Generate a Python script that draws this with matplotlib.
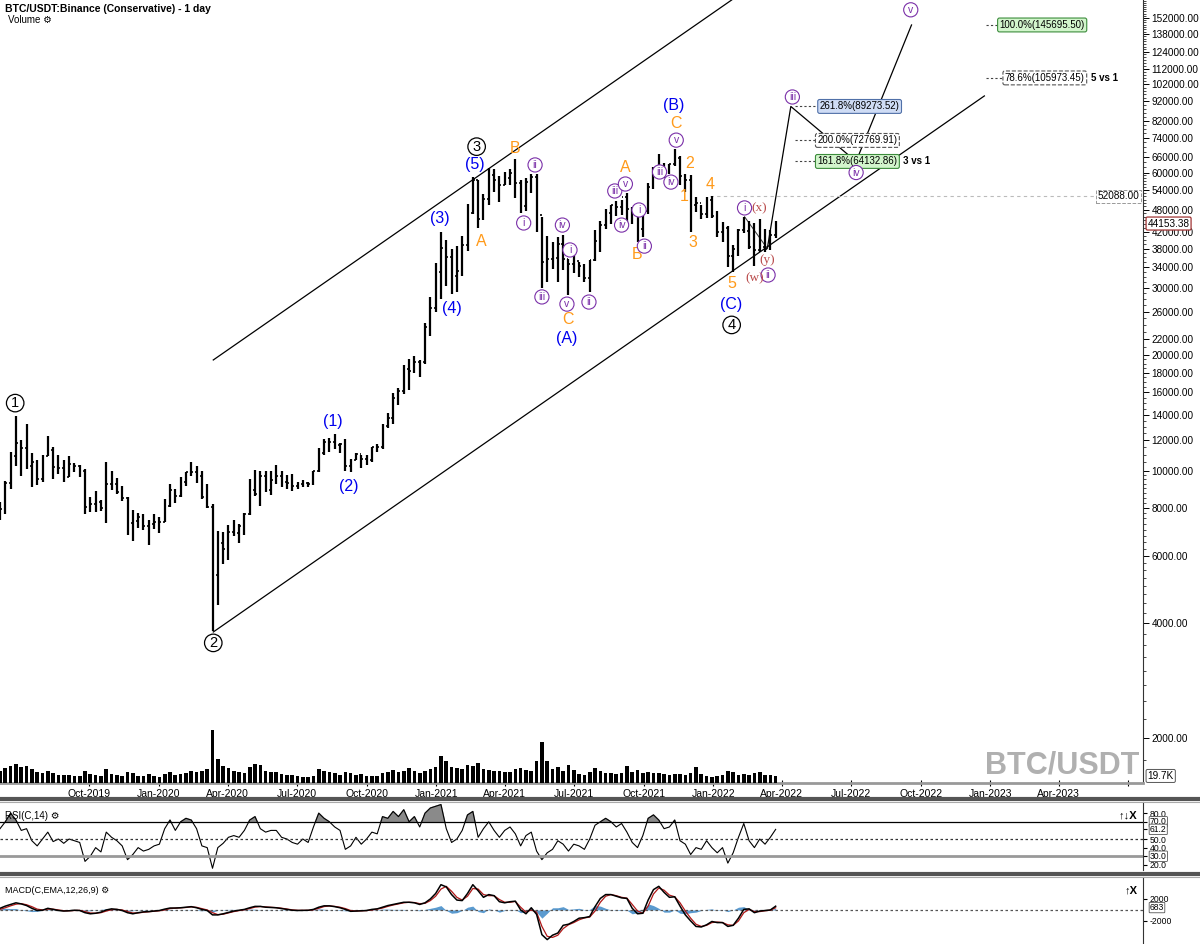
import numpy as np
import pandas as pd
import matplotlib.pyplot as plt
import matplotlib.dates as mdates
import matplotlib.ticker as mticker
import matplotlib.transforms as mtransforms
from matplotlib.lines import Line2D

plt.rcParams['font.family'] = ['Liberation Sans', 'DejaVu Sans']

# ============================================================
# 1. Barras semanales (lunes), leídas del gráfico diario
# ============================================================
first_week = "2019-06-03"

high_2019 = [8300, 9400, 11200, 13900,
             12000, 13200, 11100, 10650, 11000,
             12300, 11550, 10950, 10650,
             10900, 10450, 10350, 10100, 8550,
             8850, 8400, 10500, 9950,
             9550, 9100, 8550, 7900,
             7750, 7700, 7450, 7700, 7550]
low_2019 = [7450, 7700, 8950, 10300,
            9700, 10100, 9050, 9150, 9350,
            10900, 9500, 9800, 9350,
            9600, 9900, 9600, 7700, 7800,
            7800, 7850, 7300, 8900,
            8700, 8350, 6800, 6550,
            7100, 7000, 6400, 7050, 6850]
close_2019 = [7950, 9300, 10900, 11800,
              11450, 10300, 10550, 9500, 10900,
              11300, 10200, 10150, 9600,
              10400, 10300, 9950, 8050, 8200,
              8300, 8000, 9250, 9200,
              8800, 8500, 7300, 7400,
              7550, 7150, 7250, 7350, 7350]

high_2020 = [8450, 9200, 8950, 9600,
             9900, 10500, 10250, 9950,
             9200, 8200, 6950, 6900, 7200,
             7450, 7250, 7750, 9500,
             10050, 9950, 9950, 9950,
             10350, 9990, 9750, 9800, 9350,
             9450, 9350, 10000, 11450,
             12100, 12150, 12450, 11800, 12100,
             10700, 11100, 10950, 10950,
             11550, 11750, 13250, 14100,
             15950, 16400, 18900, 19500, 19900,
             19400, 24300, 28400, 34800]
low_2020 = [7350, 8050, 8250, 8550,
            9100, 9700, 9300, 8450,
            8000, 3800, 4450, 5700, 5850,
            6750, 6450, 6800, 7650,
            8600, 8100, 8800, 8650,
            9250, 9050, 8950, 8850, 8950,
            9050, 9050, 9150, 9900,
            11000, 11150, 11400, 11100, 10000,
            9900, 10650, 10150, 10350,
            10550, 11200, 11400, 12950,
            13200, 14850, 15800, 16200, 18000,
            17600, 19000, 22400, 25900]
close_2020 = [8100, 8900, 8600, 9350,
              9900, 9900, 9700, 8550,
              8050, 5350, 6450, 6250, 6900,
              6850, 7150, 7700, 8900,
              8700, 9700, 8900, 9450,
              9700, 9350, 9300, 9100, 9250,
              9300, 9200, 9950, 11100,
              11900, 11900, 11650, 11700, 10300,
              10650, 11050, 10750, 10650,
              11500, 11500, 13050, 13750,
              15500, 16100, 18400, 18200, 19150,
              19250, 23750, 26500, 33000]

high_2021 = [42000, 40100, 37850, 38500,
             40950, 49700, 58350, 57500,
             52600, 61800, 61200, 58600, 60300,
             61200, 64900, 57500, 57950,
             59500, 59600, 45800, 40850, 39500,
             40700, 41300, 35750, 36650,
             35100, 34700, 35400, 42500,
             44700, 48150, 49500, 50500, 51000,
             52900, 48800, 47450, 48500,
             56500, 62000, 67000, 63700,
             63000, 69000, 66300, 59300, 59200,
             51900, 49500, 51900, 52088]
low_2021 = [28100, 30400, 28850, 29200,
            32300, 37400, 46850, 43000,
            45000, 49300, 53300, 50400, 55500,
            55500, 51500, 47000, 47500,
            52900, 42000, 30000, 31000, 33500,
            31000, 33400, 28800, 32700,
            32000, 31000, 29300, 35200,
            37300, 42800, 43900, 46300, 46500,
            42800, 43900, 39600, 40750,
            46900, 54300, 59700, 58000,
            59400, 62300, 55600, 53300, 42000,
            47300, 45500, 45600, 45700]
close_2021 = [38200, 36000, 32300, 33100,
              38900, 47150, 57450, 45250,
              51200, 59000, 57400, 55800, 58200,
              60000, 56200, 49000, 56600,
              58250, 46450, 35000, 35700, 35800,
              39100, 35600, 34700, 35300,
              34250, 31800, 35400, 39850,
              43800, 47050, 49250, 48800, 51800,
              48300, 47250, 42700, 47700,
              54950, 61550, 61000, 61300,
              63250, 65500, 58600, 57250, 49400,
              50100, 46700, 50800, 46200]

high_2022 = [47500, 44450, 43500, 38900, 42600,
             45850, 44750, 44200, 45400,
             42600, 42350, 44700]
low_2022 = [40600, 39600, 34000, 32900, 36250,
            41700, 38000, 34300, 37150,
            37150, 37550, 40500]
close_2022 = [41850, 43100, 36250, 37900, 42400,
              42200, 38400, 37700, 38400,
              37800, 41300, 44153.38]

volume_2019 = [60, 75, 85, 95, 80, 85, 70, 55, 50, 60, 50, 40, 38,
               40, 35, 32, 60, 45, 38, 32, 70, 45, 38, 35, 55, 50,
               35, 32, 45, 35, 30]
volume_2020 = [45, 55, 40, 45, 50, 60, 55, 60, 70, 260, 120, 85, 75,
               60, 55, 50, 80, 95, 90, 60, 55, 55, 45, 40, 40, 35,
               30, 28, 35, 70, 60, 55, 50, 40, 55, 50, 40, 45, 35,
               35, 35, 50, 55, 65, 55, 60, 75, 60, 50, 60, 70, 80]
volume_2021 = [130, 110, 80, 75, 70, 90, 85, 100, 70, 65, 60, 60, 55,
               55, 70, 75, 65, 60, 110, 200, 110, 70, 80, 60, 90, 65,
               45, 40, 55, 75, 60, 50, 50, 45, 50, 85, 55, 65, 50,
               55, 50, 50, 45, 40, 45, 45, 40, 50, 80, 45, 35, 30]
volume_2022 = [35, 40, 60, 55, 40, 45, 40, 50, 55, 40, 40, 35]

# RSI(14) diario, muestreado por semana
rsi_2019 = [62, 70, 80, 72, 60, 62, 48, 42, 50, 58, 47, 50, 45,
            50, 48, 46, 24, 30, 40, 35, 58, 52, 48, 42, 26, 32,
            40, 36, 38, 42, 44]
rsi_2020 = [62, 72, 60, 70, 74, 72, 62, 42, 40, 16, 40, 45, 52,
            54, 52, 60, 72, 76, 62, 58, 60, 60, 52, 50, 46, 44,
            50, 46, 64, 80, 74, 70, 64, 60, 38, 42, 52, 44, 50,
            58, 56, 76, 74, 82, 76, 84, 70, 76, 64, 80, 86, 88]
rsi_2021 = [90, 62, 46, 50, 60, 78, 82, 52, 62, 70, 60, 52, 60,
            64, 56, 42, 54, 58, 36, 26, 34, 38, 48, 44, 36, 44,
            42, 38, 50, 66, 70, 74, 70, 64, 68, 58, 46, 40, 54,
            74, 78, 72, 62, 64, 72, 48, 44, 32, 40, 38, 48, 40]
rsi_2022 = [34, 40, 22, 34, 52, 68, 48, 40, 50, 44, 52, 61.2]

# MACD(12,26,9) y señal
macd_2019 = [300, 700, 1000, 1300, 1100, 800, 300, -100, -50,
             300, 100, -100, -200, -150, -50, -100, -500, -700,
             -600, -400, 0, 200, 100, -100, -500, -700,
             -500, -350, -300, -200, -100]
macd_2020 = [150, 350, 350, 400, 500, 600, 400, 100,
             -100, -900, -900, -700, -450, -200, -50, 100, 400,
             650, 650, 500, 450, 400, 250, 100, -50, -100,
             -80, -60, 100, 500, 750, 750, 600, 400, 100,
             -250, -200, -150, -100, 100, 200, 500, 800,
             1000, 1200, 1400, 1400, 1300, 1000, 1300, 2000, 3000]
macd_2021 = [4600, 4200, 2800, 1800, 1700, 3000, 4600, 3500,
             2300, 2800, 2600, 1500, 1300, 1500, 1600, 0, -700,
             400, -800, -4500, -5400, -4600, -4200, -2800, -2600, -2100,
             -1500, -1400, -1200, 600, 2100, 2800, 2800, 2500, 2200,
             2100, 300, -700, -600, 1800, 3700, 4300, 3200,
             2300, 2400, 700, -900, -2000, -3000, -3100, -2700, -2100]
macd_2022 = [-2300, -2300, -3000, -2800, -1500, 100, 200, -500, -200,
             -100, 0, 683]
signal_2019 = [100, 400, 750, 1050, 1150, 950, 600, 150, 0,
               150, 150, 0, -150, -150, -100, -80, -300, -550,
               -600, -500, -200, 50, 100, 0, -300, -550,
               -550, -420, -330, -250, -150]
signal_2020 = [0, 250, 330, 380, 450, 550, 480, 250,
               0, -500, -850, -780, -550, -300, -120, 30, 250,
               520, 620, 560, 480, 420, 320, 170, 20, -70,
               -80, -70, 30, 300, 620, 720, 650, 500, 250,
               -100, -200, -170, -120, 0, 150, 350, 650,
               900, 1100, 1300, 1400, 1350, 1150, 1200, 1700, 2500]
signal_2021 = [3800, 4300, 3400, 2300, 1800, 2500, 3900, 3800,
               2800, 2600, 2600, 1900, 1400, 1400, 1550, 500, -400,
               0, -400, -3000, -4800, -5000, -4600, -3400, -2700, -2300,
               -1800, -1450, -1300, -200, 1400, 2500, 2800, 2600, 2300,
               2150, 1000, -200, -600, 700, 2900, 4000, 3600,
               2700, 2400, 1300, -200, -1500, -2600, -3000, -2800, -2300]
signal_2022 = [-2200, -2300, -2700, -2800, -2000, -500, 100, -300, -300,
               -150, -50, 400]

high = high_2019 + high_2020 + high_2021 + high_2022
low = low_2019 + low_2020 + low_2021 + low_2022
close = close_2019 + close_2020 + close_2021 + close_2022
volume = volume_2019 + volume_2020 + volume_2021 + volume_2022
rsi = np.array(rsi_2019 + rsi_2020 + rsi_2021 + rsi_2022, dtype=float)
macd = np.array(macd_2019 + macd_2020 + macd_2021 + macd_2022, dtype=float)
signal = np.array(signal_2019 + signal_2020 + signal_2021 + signal_2022, dtype=float)
open_ = [close[0]] + close[:-1]

# ============================================================
# 2. Etiquetas de ondas (Elliott) y proyecciones
# ============================================================
black_labels = ["1", "2", "3", "4"]
black_dates = ["2019-06-26", "2020-03-13", "2021-02-23", "2022-01-25"]
black_prices = [15000, 3548, 70100, 24000]

blue_labels = ["(1)", "(2)", "(3)", "(4)", "(5)", "(A)", "(B)", "(C)"]
blue_dates = ["2020-08-17", "2020-09-08", "2021-01-06", "2021-01-22",
              "2021-02-21", "2021-06-22", "2021-11-10", "2022-01-24"]
blue_prices = [13390, 9110, 45600, 26550, 62800, 22070, 90000, 27200]

orange_labels = ["B", "A", "C", "A", "B", "C", "2", "1", "4", "3", "5"]
orange_dates = ["2021-04-15", "2021-03-01", "2021-06-23", "2021-09-07",
                "2021-09-22", "2021-11-13", "2021-12-01", "2021-11-23",
                "2021-12-27", "2021-12-05", "2022-01-25"]
orange_prices = [69500, 39750, 24730, 61700, 36760, 80800, 63500, 51800,
                 56000, 39300, 30700]

purple_labels = ["ii", "i", "iii", "iv", "i", "v", "ii", "iii", "v", "iv",
                 "i", "ii", "iii", "v", "iv", "i", "ii", "iii", "iv", "v"]
purple_dates = ["2021-05-11", "2021-04-26", "2021-05-20", "2021-06-16",
                "2021-06-26", "2021-06-22", "2021-07-21", "2021-08-24",
                "2021-09-07", "2021-09-02", "2021-09-25", "2021-10-02",
                "2021-10-22", "2021-11-13", "2021-11-06", "2022-02-11",
                "2022-03-14", "2022-04-15", "2022-07-08", "2022-09-18"]
purple_prices = [62800, 44300, 28400, 43750, 37670, 27200, 27540, 53700,
                 56000, 43750, 47900, 38550, 60200, 72900, 56650, 48500,
                 32400, 94500, 60000, 159600]

red_labels = ["(x)", "(y)", "(w)"]
red_dates = ["2022-03-02", "2022-03-13", "2022-02-24"]
red_prices = [48500, 35480, 31830]

upper_dates = ["2020-03-13", "2022-01-25"]
upper_prices = [19440, 169300]
lower_dates = ["2020-03-13", "2022-12-24"]
lower_prices = [3788, 95100]
proj_dates = ["2022-03-13", "2022-04-13", "2022-07-08", "2022-09-19"]
proj_prices = [38000, 89273.52, 64132.86, 145695.50]
wxy_dates = ["2022-02-11", "2022-03-13"]
wxy_prices = [46000, 38000]

fib_texts = ["100.0%(145695.50)", "78.6%(105973.45)", "261.8%(89273.52)",
             "200.0%(72769.91)", "161.8%(64132.86)"]
fib_prices = [145695.50, 105973.45, 89273.52, 72769.91, 64132.86]
fib_notes = ["", "5 vs 1", "", "", "3 vs 1"]
fib_line_start = ["2022-12-26", "2022-12-26", "2022-04-18", "2022-04-18", "2022-04-18"]
fib_box_start = ["2023-01-13", "2023-01-20", "2022-05-21", "2022-05-18", "2022-05-18"]
fib_note_at = [None, "2023-05-14", None, None, "2022-09-08"]
fib_face = ["#d2f5cc", "white", "#cfdcf5", "white", "#d2f5cc"]
fib_edge = ["#3c8c3c", "#555555", "#5070a8", "#555555", "#3c8c3c"]
fib_ls = ["-", "--", "-", "--", "-"]

resistance = 52088.00
resistance_from = "2021-12-27"

price_ticks = [2000, 4000, 6000, 8000, 10000, 12000, 14000, 16000, 18000,
               20000, 22000, 26000, 30000, 34000, 38000, 42000, 48000,
               54000, 60000, 66000, 74000, 82000, 92000, 102000, 112000,
               124000, 138000, 152000]


def dn(s):
    return mdates.date2num(pd.Timestamp(s))


weeks = pd.date_range(first_week, periods=len(close), freq="W-MON")
x = mdates.date2num(weeks + pd.Timedelta(days=3))
x0, x1 = dn("2019-06-06"), dn("2023-07-21")

# ============================================================
# 3. Figura
# ============================================================
fig = plt.figure(figsize=(12, 9.44), dpi=100)
W, H = 1200.0, 944.0
ax_w = 1143 / W
ax = fig.add_axes([0, 1 - 783 / H, ax_w, 783 / H])
ax_rsi = fig.add_axes([0, 1 - 870 / H, ax_w, 68 / H])
ax_macd = fig.add_axes([0, 0, ax_w, 67 / H])

# --- precios (OHLC)
ax.set_yscale("log")
ax.vlines(x, low, high, color="black", lw=1.6, zorder=3)
ax.hlines(open_, x - 2.2, x, color="black", lw=1.2, zorder=3)
ax.hlines(close, x, x + 2.2, color="black", lw=1.2, zorder=3)
ax.set_xlim(x0, x1)
ax.set_ylim(1528, 169300)

# --- volumen
vax = ax.twinx()
vax.bar(x, volume, width=4.8, color="black", zorder=1)
vax.set_ylim(0, 3840)
vax.set_yticks([])
for s in vax.spines.values():
    s.set_visible(False)

# --- canales y proyecciones
ax.plot([dn(d) for d in upper_dates], upper_prices, color="black", lw=0.9)
ax.plot([dn(d) for d in lower_dates], lower_prices, color="black", lw=0.9)
ax.plot([dn(d) for d in proj_dates], proj_prices, color="black", lw=0.9)
ax.plot([dn(d) for d in wxy_dates], wxy_prices, color="#333333", lw=0.7)
ax.plot([dn(resistance_from), x1], [resistance, resistance], ls=(0, (3, 3)),
        color="#bbbbbb", lw=0.8)

for t, p, note, ls0, bs, na, fc, ec, bls in zip(
        fib_texts, fib_prices, fib_notes, fib_line_start, fib_box_start,
        fib_note_at, fib_face, fib_edge, fib_ls):
    ax.plot([dn(ls0), dn(bs)], [p, p], ls=(0, (2, 2)), color="#444444", lw=0.8)
    ax.text(dn(bs), p, t, ha="left", va="center", fontsize=7, zorder=6,
            bbox=dict(boxstyle="round,pad=0.2", fc=fc, ec=ec, lw=0.8, ls=bls))
    if note:
        ax.text(dn(na), p, note, ha="left", va="center", fontsize=7,
                fontweight="bold", zorder=6)


def put_labels(labels, dates, prices, **kw):
    for s, d, p in zip(labels, dates, prices):
        ax.text(dn(d), p, s, ha="center", va="center", zorder=7, **kw)


put_labels(black_labels, black_dates, black_prices, fontsize=10.5, color="black",
           bbox=dict(boxstyle="circle,pad=0.12", fc="white", ec="black", lw=0.9))
put_labels(blue_labels, blue_dates, blue_prices, fontsize=11.5, color="#0000ee")
put_labels(orange_labels, orange_dates, orange_prices, fontsize=11.5, color="#ff9a1a")
put_labels(purple_labels, purple_dates, purple_prices, fontsize=7.5, color="#7a2fa8",
           bbox=dict(boxstyle="circle,pad=0.2", fc="white", ec="#7a2fa8", lw=0.8))
put_labels(red_labels, red_dates, red_prices, fontsize=9.5, color="#b84848",
           family=["Liberation Serif", "DejaVu Serif"])

# --- ejes del panel principal
ax.yaxis.tick_right()
ax.yaxis.set_major_locator(mticker.FixedLocator(price_ticks))
ax.yaxis.set_major_formatter(mticker.FuncFormatter(lambda v, _: f"{v:.2f}"))
minor = np.concatenate([np.arange(1750, 10000, 250), np.arange(10000, 20000, 500),
                        np.arange(20000, 60000, 1000), np.arange(60000, 170000, 2000)])
ax.yaxis.set_minor_locator(mticker.FixedLocator(minor))
ax.yaxis.set_minor_formatter(mticker.NullFormatter())
ax.tick_params(axis="y", which="major", labelsize=7.2, length=4, width=0.7, pad=2)
ax.tick_params(axis="y", which="minor", length=2.5, width=0.5)

qticks = pd.date_range("2019-10-01", "2023-07-01", freq="QS")
ax.set_xticks(mdates.date2num(qticks))
ax.set_xticklabels([d.strftime("%b-%Y") for d in qticks[:-1]] + [""])
ax.tick_params(axis="x", labelsize=7.5, length=4, direction="inout", pad=2)
ax.spines["top"].set_visible(False)
ax.spines["left"].set_visible(False)
ax.spines["bottom"].set_color("#999999")
ax.spines["bottom"].set_linewidth(2)
ax.spines["right"].set_color("#333333")

tr_right = mtransforms.blended_transform_factory(ax.transAxes, ax.transData)
ax.text(1.004, close[-1], f"{close[-1]:.2f}", transform=tr_right, ha="left",
        va="center", fontsize=7.2, zorder=10, clip_on=False,
        bbox=dict(boxstyle="round,pad=0.15", fc="white", ec="#a03434", lw=0.9))
ax.text(0.997, resistance, f"{resistance:.2f}", transform=tr_right, ha="right",
        va="center", fontsize=7.2, zorder=10,
        bbox=dict(boxstyle="square,pad=0.15", fc="white", ec="#999999", lw=0.7, ls="--"))
ax.text(1.004, 0.009, "19.7K", transform=ax.transAxes, ha="left", va="center",
        fontsize=7.2, clip_on=False,
        bbox=dict(boxstyle="round,pad=0.15", fc="white", ec="#555555", lw=0.7))
ax.text(0.997, 0.003, "BTC/USDT", transform=ax.transAxes, ha="right", va="bottom",
        fontsize=22, fontweight="bold", color="#b0b0b0", zorder=0)
ax.text(0.004, 0.989, "BTC/USDT:Binance (Conservative) - 1 day", transform=ax.transAxes,
        ha="left", va="center", fontsize=7.5, fontweight="bold")
ax.text(0.007, 0.974, "Volume \u2699", transform=ax.transAxes, ha="left",
        va="center", fontsize=7)

# --- RSI
ax_rsi.plot(x, rsi, color="black", lw=0.8)
ax_rsi.fill_between(x, 70, rsi, where=rsi > 70, interpolate=True, color="#8a8a8a")
ax_rsi.axhline(70, color="black", lw=0.9)
ax_rsi.axhline(50, color="#333333", lw=0.9, ls=(0, (2, 2)))
ax_rsi.axhline(30, color="#999999", lw=2)
ax_rsi.set_xlim(x0, x1)
ax_rsi.set_ylim(14, 93)
ax_rsi.set_xticks([])
ax_rsi.yaxis.tick_right()
ax_rsi.set_yticks([20, 30, 40, 50, 61.2, 70, 80])
ax_rsi.set_yticklabels(["20.0", "", "40.0", "50.0", "", "", "80.0"])
ax_rsi.tick_params(axis="y", labelsize=6.2, length=3, pad=2)
tr_rsi = mtransforms.blended_transform_factory(ax_rsi.transAxes, ax_rsi.transData)
for v in [70, rsi[-1], 30]:
    ax_rsi.text(1.006, v, f"{v:.1f}", transform=tr_rsi, ha="left", va="center",
                fontsize=6.2, clip_on=False,
                bbox=dict(boxstyle="round,pad=0.08", fc="white", ec="#555555", lw=0.6))
ax_rsi.text(0.004, 0.8, "RSI(C,14) \u2699", transform=ax_rsi.transAxes, ha="left",
            va="center", fontsize=7)
ax_rsi.text(0.995, 0.8, "\u2191\u2193X", transform=ax_rsi.transAxes, ha="right",
            va="center", fontsize=8, fontweight="bold")

# --- MACD
hist = macd - signal
ax_macd.fill_between(x, 0, hist, color="#5b9bd0", lw=0)
ax_macd.axhline(0, color="#555555", lw=0.9, ls=(0, (2, 2)))
ax_macd.plot(x, signal, color="#b01818", lw=0.9)
ax_macd.plot(x, macd, color="black", lw=1.1)
ax_macd.set_xlim(x0, x1)
ax_macd.set_ylim(-6200, 6000)
ax_macd.set_xticks([])
ax_macd.yaxis.tick_right()
ax_macd.set_yticks([-2000, 2000])
ax_macd.set_yticklabels(["-2000", "2000"])
ax_macd.tick_params(axis="y", labelsize=6.2, length=3, pad=2)
tr_macd = mtransforms.blended_transform_factory(ax_macd.transAxes, ax_macd.transData)
ax_macd.text(1.006, macd[-1] - 250, f"{macd[-1]:.0f}", transform=tr_macd, ha="left",
             va="center", fontsize=6.2, clip_on=False,
             bbox=dict(boxstyle="round,pad=0.08", fc="white", ec="#555555", lw=0.6))
ax_macd.text(0.004, 0.8, "MACD(C,EMA,12,26,9) \u2699", transform=ax_macd.transAxes,
             ha="left", va="center", fontsize=6.5)
ax_macd.text(0.995, 0.8, "\u2191X", transform=ax_macd.transAxes, ha="right",
             va="center", fontsize=8, fontweight="bold")

for a in (ax_rsi, ax_macd):
    for side in ("top", "left", "bottom"):
        a.spines[side].set_visible(False)
    a.spines["right"].set_color("#333333")

# separadores entre paneles
for yp in (799, 874):
    fig.add_artist(Line2D([0, 1], [1 - yp / H, 1 - yp / H], transform=fig.transFigure,
                          color="#555555", lw=3))
    fig.add_artist(Line2D([0, 1], [1 - (yp + 3) / H, 1 - (yp + 3) / H],
                          transform=fig.transFigure, color="#aaaaaa", lw=0.8))

fig.savefig("out.png", dpi=100)
